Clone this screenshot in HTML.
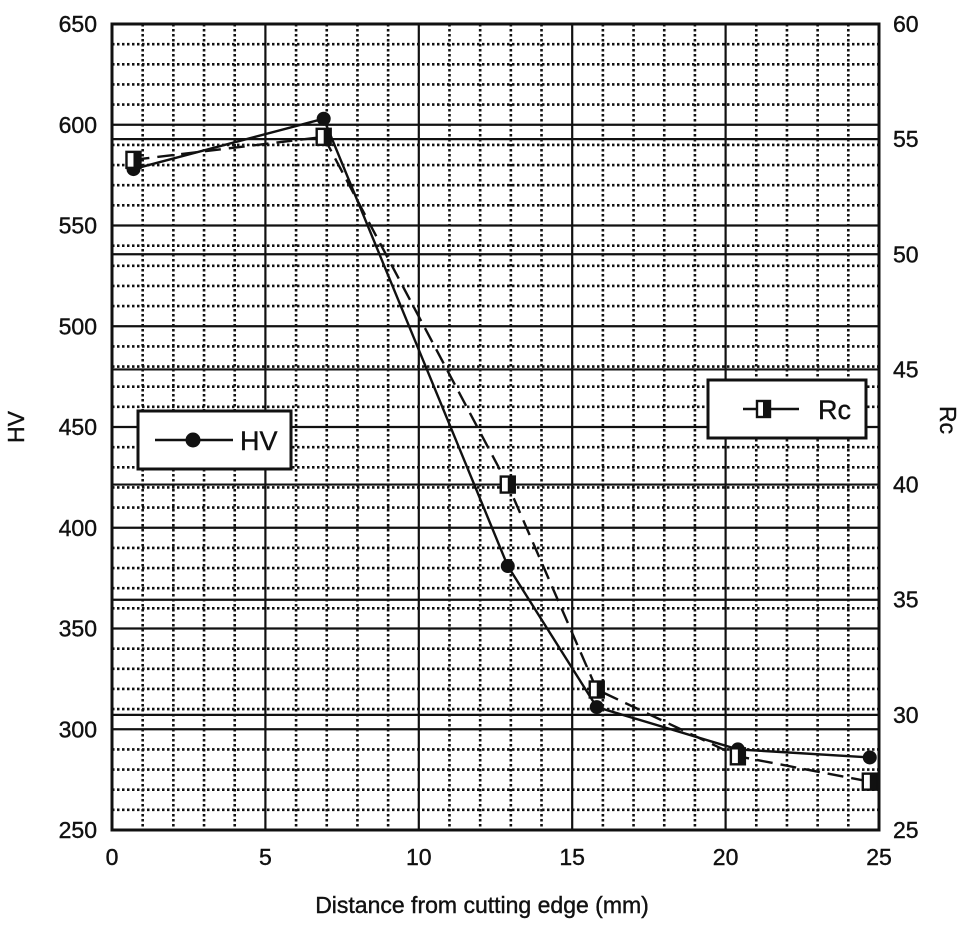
<!DOCTYPE html>
<html><head><meta charset="utf-8"><style>body{margin:0;background:#fff}svg{display:block}text{font-family:"Liberation Sans",Arial,sans-serif;fill:#111;stroke:#111;stroke-width:0.4}</style></head>
<body>
<svg id="s" width="964" height="930" xmlns="http://www.w3.org/2000/svg"></svg>
<script>
const L=112,R=879,T=24,B=830;
const X=v=>L+v*(R-L)/25, YH=v=>T+(650-v)*(B-T)/400, YR=v=>T+(60-v)*(B-T)/35;
let h='';
for(let i=1;i<25;i++){if(i%5)h+=`<line x1="${X(i)}" y1="${T}" x2="${X(i)}" y2="${B}" stroke="#111" stroke-width="2.6" stroke-dasharray="2.5 2.5"/>`;}
for(let v=260;v<650;v+=10){if(v%50)h+=`<line x1="${L}" y1="${YH(v)}" x2="${R}" y2="${YH(v)}" stroke="#111" stroke-width="2.6" stroke-dasharray="2.5 2.5"/>`;}
for(let i=5;i<25;i+=5)h+=`<line x1="${X(i)}" y1="${T}" x2="${X(i)}" y2="${B}" stroke="#111" stroke-width="2.2"/>`;
for(let v=300;v<650;v+=50)h+=`<line x1="${L}" y1="${YH(v)}" x2="${R}" y2="${YH(v)}" stroke="#111" stroke-width="2.2"/>`;
for(let v=30;v<60;v+=5)h+=`<line x1="${L}" y1="${YR(v)}" x2="${R}" y2="${YR(v)}" stroke="#111" stroke-width="2.2"/>`;
h+=`<rect x="${L}" y="${T}" width="${R-L}" height="${B-T}" fill="none" stroke="#111" stroke-width="3"/>`;
for(let v=250;v<=650;v+=50)h+=`<text x="97" y="${YH(v)+8}" font-size="23" text-anchor="end">${v}</text>`;
for(let v=25;v<=60;v+=5)h+=`<text x="893" y="${YR(v)+8}" font-size="23">${v}</text>`;
for(let i=0;i<=25;i+=5)h+=`<text x="${X(i)}" y="865" font-size="23" text-anchor="middle">${i}</text>`;
h+=`<text x="482" y="913" font-size="23" text-anchor="middle">Distance from cutting edge (mm)</text>`;
h+=`<text transform="translate(24,427) rotate(-90)" font-size="23" text-anchor="middle">HV</text>`;
h+=`<text transform="translate(940,420) rotate(90)" font-size="23" text-anchor="middle">Rc</text>`;
const xs=[0.7,6.9,12.9,15.8,20.4,24.7];
const hv=[578,603,381,311,290,286], rc=[54.1,55.1,40,31.1,28.2,27.1];
const ph=xs.map((x,i)=>X(x)+','+YH(hv[i])).join(' ');
const pr=xs.map((x,i)=>X(x)+','+YR(rc[i])).join(' ');
h+=`<polyline points="${pr}" fill="none" stroke="#111" stroke-width="2.4" stroke-dasharray="16 8"/>`;
h+=`<polyline points="${ph}" fill="none" stroke="#111" stroke-width="2.4"/>`;
xs.forEach((x,i)=>{h+=`<circle cx="${X(x)}" cy="${YH(hv[i])}" r="7" fill="#111"/>`;});
xs.forEach((x,i)=>{const cx=X(x),cy=YR(rc[i]);h+=`<rect x="${cx-7}" y="${cy-8}" width="14" height="16" fill="#fff" stroke="#111" stroke-width="2.4"/><rect x="${cx}" y="${cy-8}" width="7" height="16" fill="#111"/>`;});
h+=`<rect x="138" y="411" width="153" height="58" fill="#fff" stroke="#111" stroke-width="3"/><line x1="155" y1="440" x2="233" y2="440" stroke="#111" stroke-width="2.5"/><circle cx="193" cy="440" r="7.5" fill="#111"/><text x="240" y="450" font-size="27">HV</text>`;
h+=`<rect x="708" y="380" width="158" height="58" fill="#fff" stroke="#111" stroke-width="3"/><line x1="743" y1="409" x2="799" y2="409" stroke="#111" stroke-width="2.5"/><rect x="757" y="401" width="13" height="16" fill="#fff" stroke="#111" stroke-width="2.4"/><rect x="763" y="401" width="7" height="16" fill="#111"/><text x="818" y="419" font-size="27">Rc</text>`;
document.getElementById('s').innerHTML=h;
</script>
</body></html>
